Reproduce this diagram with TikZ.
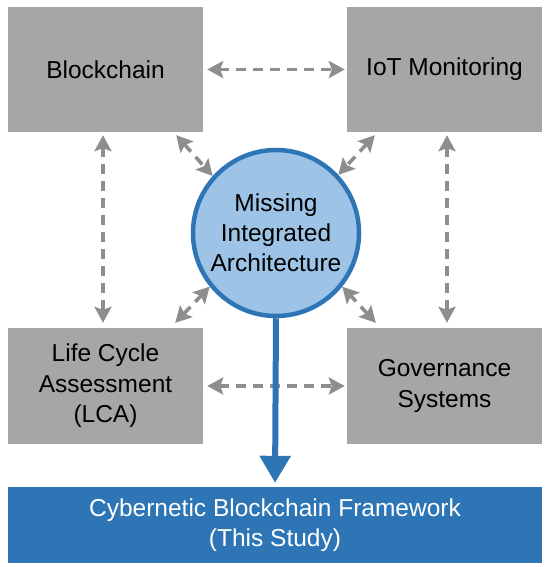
\documentclass[tikz,border=0pt]{standalone}
\usepackage{fontspec}
\setmainfont{Liberation Sans}
\usetikzlibrary{arrows.meta,calc}
\definecolor{boxgray}{HTML}{A6A6A6}
\definecolor{arrgray}{HTML}{8E8E8E}
\definecolor{lightblue}{HTML}{9DC3E6}
\definecolor{midblue}{HTML}{2E75B6}
\begin{document}
\begin{tikzpicture}[x=1pt,y=-1pt,
  graybox/.style={rectangle,fill=boxgray,draw=none,minimum width=195pt,align=center,
    inner sep=0pt,font=\fontsize{24.5}{30.5}\selectfont,text=black},
  dashconn/.style={draw=arrgray,line width=3.6pt,dash pattern=on 10pt off 7pt,
    {Stealth[length=16pt,width=17pt,inset=3pt]}-{Stealth[length=16pt,width=17pt,inset=3pt]}},
  ]
\useasboundingbox (0,0) rectangle (550,567);
\node[graybox,minimum height=125pt] (bc) at (105.5,69.5) {Blockchain};
\node[graybox,minimum height=125pt] (iot) at (444.5,69.5) {IoT Monitoring};
\node[graybox,minimum height=116pt] (lca) at (105.5,386) {Life Cycle\\Assessment\\(LCA)};
\node[graybox,minimum height=116pt] (gov) at (444.5,386) {Governance\\Systems};
\node[circle,fill=lightblue,draw=midblue,line width=4.5pt,minimum size=166pt,inner sep=0pt,
  align=center,font=\fontsize{24.5}{30}\selectfont] (mia) at (276,233)
  {Missing\\Integrated\\Architecture};
\node[rectangle,fill=midblue,minimum width=534pt,minimum height=76pt,inner sep=0pt,
  align=center,text=white,font=\fontsize{24.5}{30}\selectfont] (fw) at (275,525)
  {Cybernetic Blockchain Framework\\(This Study)};
% dashed connectors
\draw[dashconn,shorten <=4pt,shorten >=2pt] (bc.east) -- (iot.west);
\draw[dashconn,shorten <=4pt,shorten >=2pt] (lca.east) -- (gov.west);
\draw[dashconn,shorten <=3pt,shorten >=5pt] ($(bc.south)+(-2.5,0)$) -- ($(lca.north)+(-2.5,0)$);
\draw[dashconn,shorten <=3pt,shorten >=5pt] ($(iot.south)+(2.5,0)$) -- ($(gov.north)+(2.5,0)$);
\draw[dashconn] ($(bc.south east)+(-27,3)$) -- (mia.138);
\draw[dashconn] ($(iot.south west)+(28,3)$) -- (mia.43);
\draw[dashconn] ($(lca.north east)+(-28,-5)$) -- (mia.219);
\draw[dashconn] ($(gov.north west)+(29,-5)$) -- (mia.321);
% main arrow
\draw[draw=midblue,line width=6pt,-{Triangle[length=27pt,width=30pt]},shorten >=4pt]
  (mia.south) -- (fw.north);
\end{tikzpicture}
\end{document}
